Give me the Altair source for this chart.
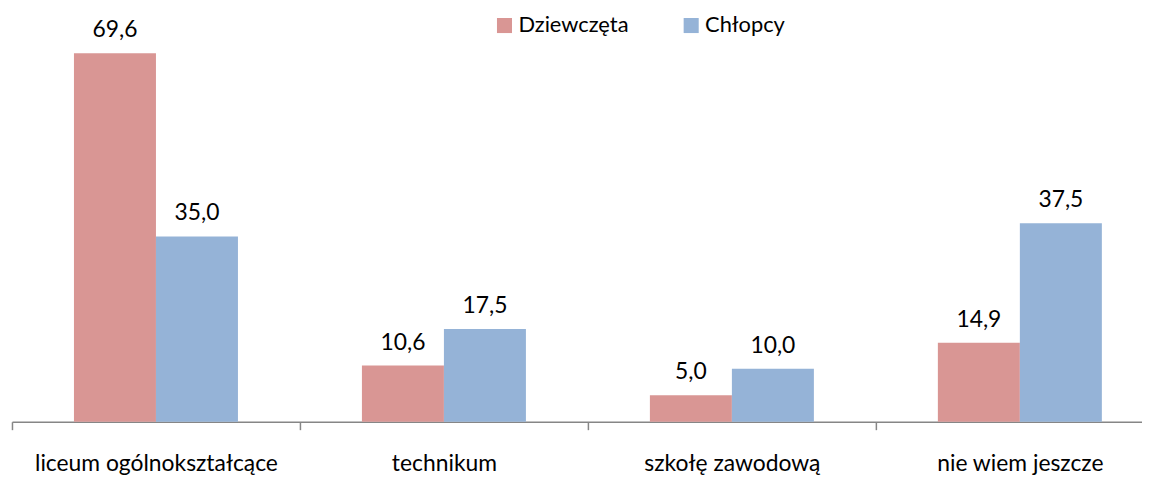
import altair as alt
import pandas as pd

categories = ["liceum ogólnokształcące", "technikum", "szkołę zawodową", "nie wiem jeszcze"]
series = ["Dziewczęta", "Chłopcy"]
girls = [69.6, 10.6, 5.0, 14.9]
boys = [35.0, 17.5, 10.0, 37.5]
colors = ["#D99694", "#95B3D7"]

rows = []
for i, c in enumerate(categories):
    for s, vals in zip(series, [girls, boys]):
        v = vals[i]
        rows.append({"kategoria": c, "seria": s, "wartosc": v,
                     "etykieta": f"{v:.1f}".replace(".", ",")})
df = pd.DataFrame(rows)

FONT = "Lato"

x = alt.X("kategoria:N", sort=categories, title=None,
          scale=alt.Scale(range=[0, 1160], paddingInner=0, paddingOuter=0),
          axis=alt.Axis(tickBand="extent", labelAngle=0, labelFontSize=23,
                        labelFont=FONT, labelColor="#000000", labelPadding=23,
                        labelLimit=0,
                        domainColor="#868686", tickColor="#868686", tickSize=8,
                        domainWidth=1.5, tickWidth=1.5))
xo = alt.XOffset("seria:N", sort=series,
                 scale=alt.Scale(paddingInner=0, paddingOuter=0.756))
y = alt.Y("wartosc:Q", scale=alt.Scale(domain=[0, 75]), axis=None)

bars = alt.Chart(df).mark_bar().encode(
    x=x, xOffset=xo, y=y,
    color=alt.Color("seria:N", sort=series,
                    scale=alt.Scale(domain=series, range=colors),
                    legend=alt.Legend(title=None, orient="none", direction="horizontal",
                                      legendX=485, legendY=-10,
                                      symbolType="square", symbolSize=230,
                                      symbolStrokeWidth=0, symbolOpacity=1,
                                      labelFont=FONT, labelFontSize=22,
                                      labelColor="#000000", columnPadding=52,
                                      labelOffset=3)),
)

labels = alt.Chart(df).mark_text(dy=-23, fontSize=23, font=FONT, color="#000000").encode(
    x=x, xOffset=xo, y=y, text="etykieta:N"
)

chart = (bars + labels).properties(
    width=1138, height=400,
    padding={"left": 4, "right": 0, "top": 15, "bottom": 54},
    autosize=alt.AutoSizeParams(type="none"),
).configure_view(stroke=None)

chart.save("out.html", embed_options={"renderer": "svg", "actions": False})
